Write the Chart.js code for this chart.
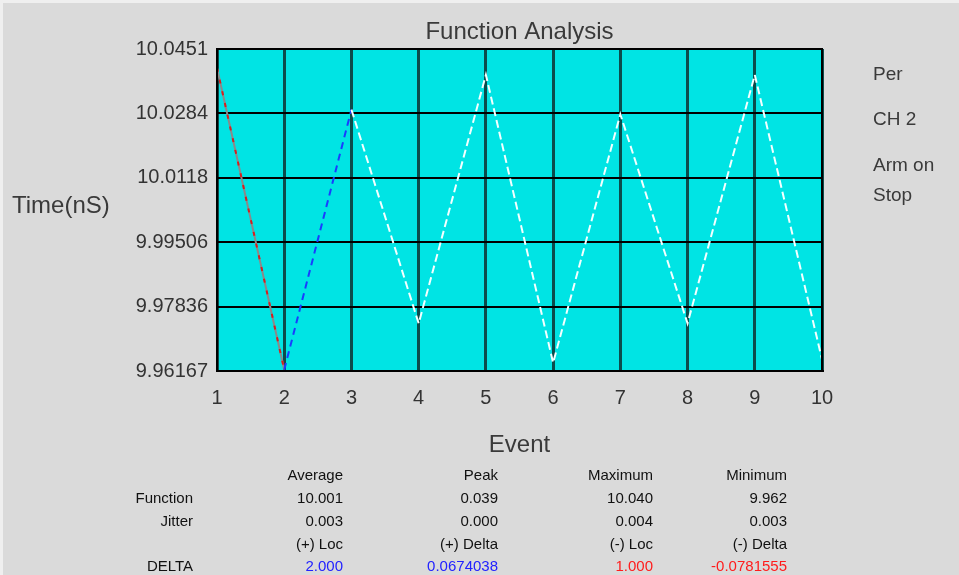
<!DOCTYPE html>
<html>
<head>
<meta charset="utf-8">
<script src="https://cdn.jsdelivr.net/npm/chart.js@4/dist/chart.umd.min.js"></script>
<style>
  html, body { margin: 0; padding: 0; background: #dadada; }
  #wrap { width: 959px; height: 575px; position: relative; }
  canvas { display: block; }
</style>
</head>
<body>
<div id="wrap"><canvas id="chart" width="959" height="575"></canvas></div>
<script>
// Measured period for each event
const events = [1, 2, 3, 4, 5, 6, 7, 8, 9, 10];
const timeValues = [10.0402, 9.9620, 10.0294, 9.9740, 10.0384, 9.9638, 10.0282, 9.9740, 10.0384, 9.9647];

// Vertical scale limits and its printed tick labels (bottom to top)
const yMin = 9.96167;
const yMax = 10.0451;
const yTickLabels = ['9.96167', '9.97836', '9.99506', '10.0118', '10.0284', '10.0451'];

// Side status panel
const statusLabels = ['Per', 'CH 2', 'Arm on', 'Stop'];

// Statistics table
const statColumns = ['Average', 'Peak', 'Maximum', 'Minimum'];
const statRowNames = ['Function', 'Jitter', '', 'DELTA'];
const functionStats = ['10.001', '0.039', '10.040', '9.962'];
const jitterStats = ['0.003', '0.000', '0.004', '0.003'];
const deltaHeaders = ['(+) Loc', '(+) Delta', '(-) Loc', '(-) Delta'];
const deltaValues = ['2.000', '0.0674038', '1.000', '-0.0781555'];

const FONT = '"Liberation Sans", Arial, sans-serif';

const panelPlugin = {
  id: 'panel',
  beforeDraw(chart) {
    const { ctx, chartArea: a } = chart;
    ctx.save();
    ctx.fillStyle = '#dadada';
    ctx.fillRect(0, 0, chart.width, chart.height);
    // light frame edge
    ctx.fillStyle = '#efefef';
    ctx.fillRect(0, 0, chart.width, 3);
    ctx.fillRect(0, 0, 3, chart.height);
    // plot background
    ctx.fillStyle = '#00e4e4';
    ctx.fillRect(a.left, a.top, a.right - a.left, a.bottom - a.top);
    ctx.restore();
  },
  afterDraw(chart) {
    const { ctx, chartArea: a } = chart;
    ctx.save();
    // plot frame
    ctx.strokeStyle = '#000';
    ctx.lineWidth = 2;
    ctx.strokeRect(a.left, a.top, a.right - a.left, a.bottom - a.top);

    ctx.fillStyle = '#3a3a3a';
    ctx.textBaseline = 'alphabetic';
    ctx.textAlign = 'center';
    ctx.font = '24px ' + FONT;
    ctx.fillText('Function Analysis', (a.left + a.right) / 2, 39);
    ctx.fillText('Event', (a.left + a.right) / 2, 452);

    ctx.textAlign = 'left';
    ctx.fillText('Time(nS)', 12, 213);

    ctx.font = '19px ' + FONT;
    const statusY = [80, 125, 171, 201];
    statusLabels.forEach((t, i) => ctx.fillText(t, 873, statusY[i]));

    // statistics table
    ctx.font = '15px ' + FONT;
    ctx.textAlign = 'right';
    const colRight = [343, 498, 653, 787];
    const rowY = [480, 503, 526, 549, 571];
    ctx.fillStyle = '#111';
    statColumns.forEach((t, i) => ctx.fillText(t, colRight[i], rowY[0]));
    statRowNames.forEach((t, i) => { if (t) ctx.fillText(t, 193, rowY[i + 1]); });
    functionStats.forEach((t, i) => ctx.fillText(t, colRight[i], rowY[1]));
    jitterStats.forEach((t, i) => ctx.fillText(t, colRight[i], rowY[2]));
    deltaHeaders.forEach((t, i) => ctx.fillText(t, colRight[i], rowY[3]));
    deltaValues.forEach((t, i) => {
      ctx.fillStyle = i < 2 ? '#2222ff' : '#ff1c1c';
      ctx.fillText(t, colRight[i], rowY[4]);
    });
    ctx.restore();
  }
};

const points = events.map((e, i) => ({ x: e, y: timeValues[i] }));

new Chart(document.getElementById('chart'), {
  type: 'line',
  data: {
    datasets: [
      {
        // dashed trace: red falling edge, blue rising edge, white afterwards
        data: points,
        borderWidth: 2,
        pointRadius: 0,
        tension: 0,
        order: 1,
        borderColor: '#ffffff',
        segment: {
          borderColor: c => c.p0DataIndex === 0 ? '#d42020' : (c.p0DataIndex === 1 ? '#1a3cff' : '#f4ffff'),
          borderDash: c => c.p0DataIndex === 0 ? [4, 8] : (c.p0DataIndex === 1 ? [7, 5] : [8, 4])
        }
      },
      {
        // solid grey underlay of the first edge
        data: points,
        borderWidth: 2,
        pointRadius: 0,
        tension: 0,
        order: 2,
        borderColor: 'rgba(0,0,0,0)',
        segment: {
          borderColor: c => c.p0DataIndex === 0 ? '#8a8a8a' : 'rgba(0,0,0,0)'
        }
      }
    ]
  },
  options: {
    responsive: false,
    animation: false,
    devicePixelRatio: 1,
    layout: { padding: { top: 49, right: 137, left: 0, bottom: 0 } },
    plugins: { legend: { display: false }, tooltip: { enabled: false }, title: { display: false } },
    scales: {
      x: {
        type: 'linear',
        min: 1,
        max: 10,
        afterFit: s => { s.height = 204; },
        ticks: {
          stepSize: 1,
          padding: 15,
          color: '#333',
          font: { family: FONT, size: 20 }
        },
        grid: { color: '#0c4c4c', lineWidth: 3, drawTicks: false },
        border: { display: true, color: '#000', width: 2 }
      },
      y: {
        type: 'linear',
        min: yMin,
        max: yMax,
        afterFit: s => { s.width = 217; },
        afterBuildTicks: s => {
          s.ticks = yTickLabels.map((_, i) => ({ value: yMin + i * (yMax - yMin) / (yTickLabels.length - 1) }));
        },
        ticks: {
          padding: 9,
          color: '#333',
          font: { family: FONT, size: 20 },
          callback: (v, i) => yTickLabels[i]
        },
        grid: { color: '#000', lineWidth: 2, drawTicks: false },
        border: { display: true, color: '#000', width: 2 }
      }
    }
  },
  plugins: [panelPlugin]
});
</script>
</body>
</html>
